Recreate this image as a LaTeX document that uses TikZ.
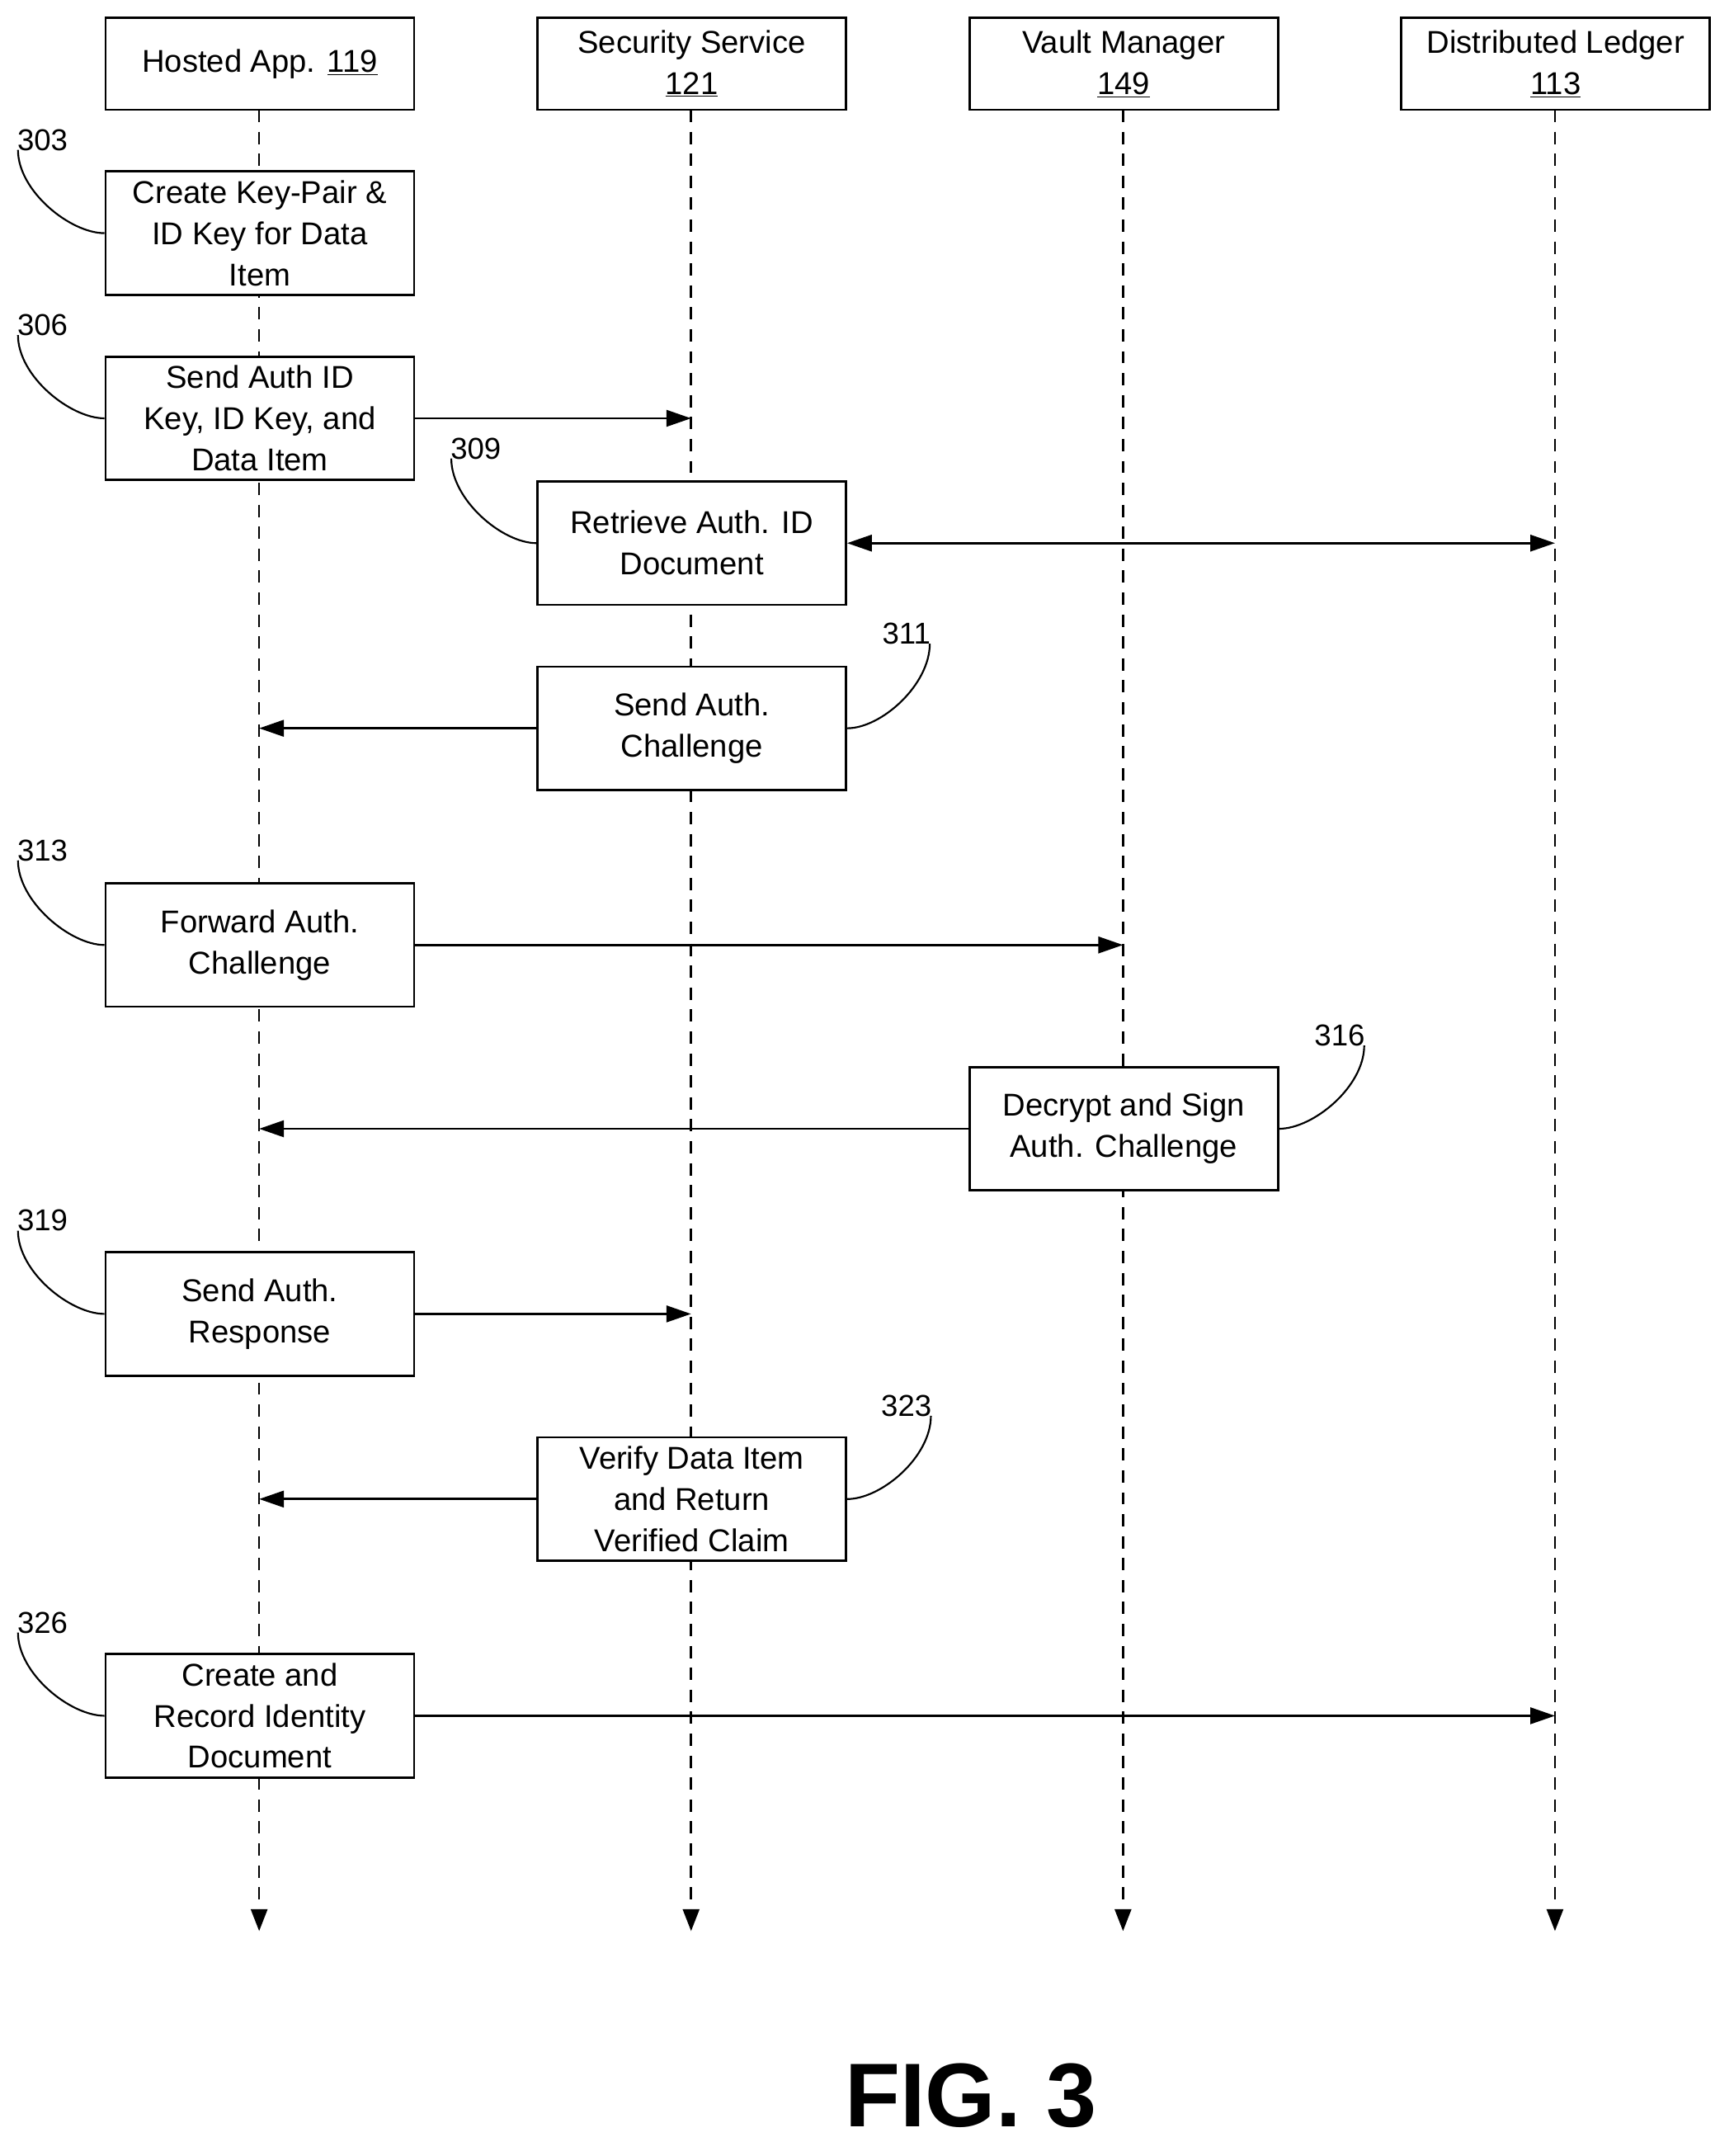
\documentclass[tikz,border=0pt]{standalone}
\usepackage{fontspec}
\setmainfont{Liberation Sans}
\usetikzlibrary{arrows.meta}
\begin{document}
\begin{tikzpicture}[x=1pt,y=-1pt,
  box/.style={draw,line width=1.6pt,fill=white,minimum width=225pt,minimum height=90pt,align=center,inner sep=2pt,font=\fontsize{23}{30}\selectfont},
  hdr/.style={box,minimum height=67pt},
  life/.style={dashed,line width=1.6pt,dash pattern=on 9pt off 7pt,-{Triangle[length=16pt,width=12pt]}},
  msg/.style={line width=1.6pt,-{Triangle[length=18pt,width=12pt]}},
  lab/.style={font=\fontsize{22}{26}\selectfont},
  cv/.style={line width=1.3pt}]
\useasboundingbox (0,0) rectangle (1264,1572);
\foreach \n/\x in {a/189,b/504,c/819,d/1134}{
  \coordinate (t\n) at (\x,80); \coordinate (e\n) at (\x,1408);
  \draw[life] (t\n) -- (e\n);}
\node[hdr] (ha) at (189.5,46.5) {Hosted App. \underline{119}};
\node[hdr] (ss) at (504.5,46.5) {Security Service\\\underline{121}};
\node[hdr] (vm) at (819.5,46.5) {Vault Manager\\\underline{149}};
\node[hdr] (dl) at (1134.5,46.5) {Distributed Ledger\\\underline{113}};
% boxes
\node[box] (b303) at (189.5,170) {Create Key-Pair \&\\ID Key for Data\\Item};
\node[box] (b306) at (189.5,305) {Send Auth ID\\Key, ID Key, and\\Data Item};
\node[box] (b309) at (504.5,396) {Retrieve Auth. ID\\Document};
\node[box] (b311) at (504.5,531) {Send Auth.\\Challenge};
\node[box] (b313) at (189.5,689) {Forward Auth.\\Challenge};
\node[box] (b316) at (819.5,823) {Decrypt and Sign\\Auth. Challenge};
\node[box] (b319) at (189.5,958) {Send Auth.\\Response};
\node[box] (b323) at (504.5,1093) {Verify Data Item\\and Return\\Verified Claim};
\node[box] (b326) at (189.5,1251) {Create and\\Record Identity\\Document};
% message targets
\coordinate (p306) at (504,305);
\coordinate (p309) at (1134,396);
\coordinate (p311) at (189,531);
\coordinate (p313) at (819,689);
\coordinate (p316) at (189,823);
\coordinate (p319) at (504,958);
\coordinate (p323) at (189,1093);
\coordinate (p326) at (1134,1251);
\draw[msg] (b306.east) -- (p306);
\draw[line width=1.6pt,{Triangle[length=18pt,width=12pt]}-{Triangle[length=18pt,width=12pt]}] (b309.east) -- (p309);
\draw[msg] (b311.west) -- (p311);
\draw[msg] (b313.east) -- (p313);
\draw[msg] (b316.west) -- (p316);
\draw[msg] (b319.east) -- (p319);
\draw[msg] (b323.west) -- (p323);
\draw[msg] (b326.east) -- (p326);
% labels
\node[lab] (l303) at (31,102) {303};
\node[lab] (l306) at (31,237) {306};
\node[lab] (l309) at (347,327) {309};
\node[lab] (l311) at (661,462) {311};
\node[lab] (l313) at (31,620) {313};
\node[lab] (l316) at (977,755) {316};
\node[lab] (l319) at (31,890) {319};
\node[lab] (l323) at (661,1025) {323};
\node[lab] (l326) at (31,1183) {326};
\foreach \l/\b in {303/b303,306/b306,313/b313,319/b319,326/b326,309/b309}{
  \draw[cv] ([xshift=4pt,yshift=4pt]l\l.south west) .. controls +(0,30) and +(-25,0) .. (\b.west);}
\foreach \l/\b in {311/b311,316/b316,323/b323}{
  \draw[cv] ([xshift=-4pt,yshift=4pt]l\l.south east) .. controls +(0,30) and +(25,0) .. (\b.east);}
\node[font=\fontsize{66}{70}\selectfont\bfseries] (fig) at (708,1528) {FIG. 3};
\end{tikzpicture}
\end{document}
